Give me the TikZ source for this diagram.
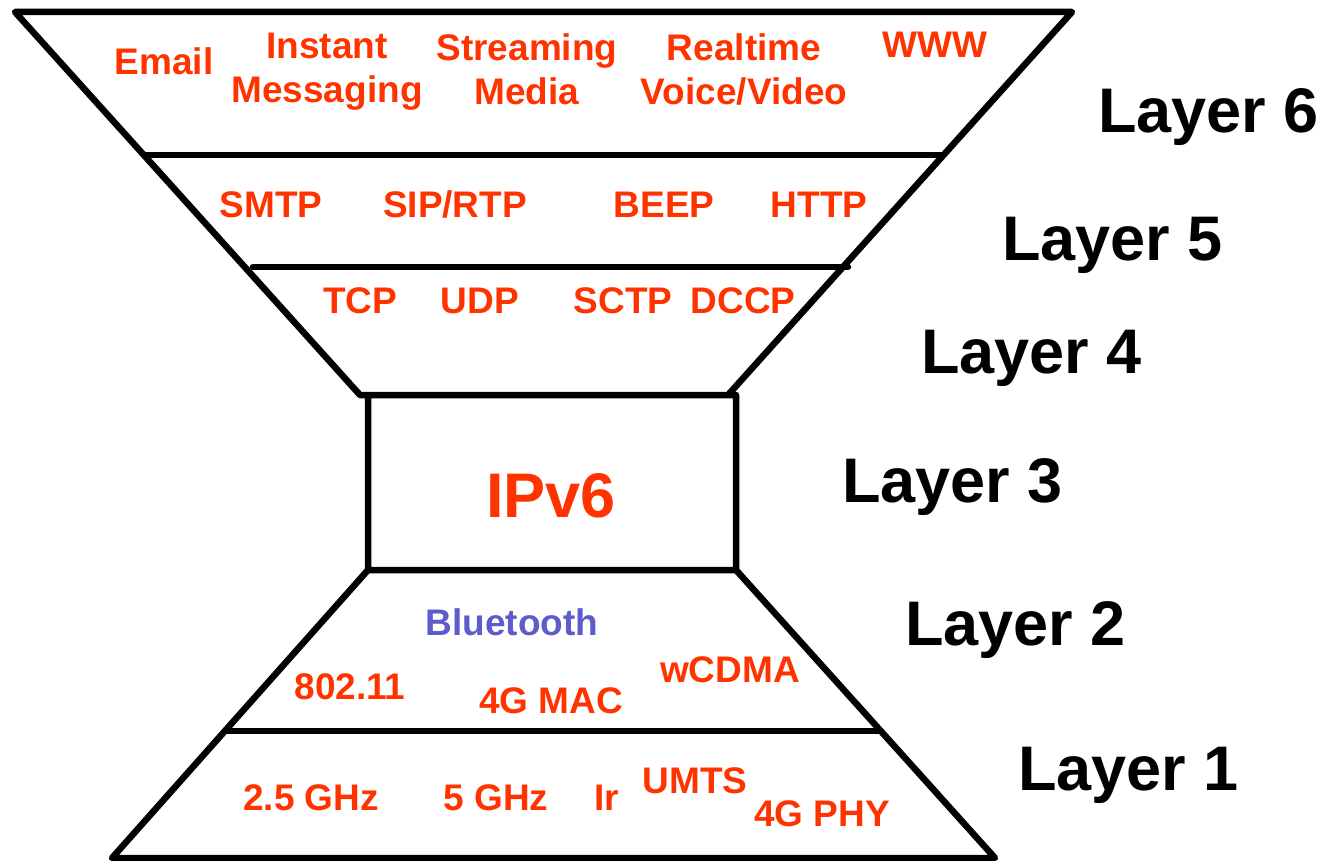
\documentclass[tikz,border=0pt]{standalone}
\usepackage{fontspec}
\setmainfont{Liberation Sans}
\definecolor{lblred}{RGB}{255,51,0}
\definecolor{lblblue}{RGB}{92,92,204}
\begin{document}
\begin{tikzpicture}[x=1pt,y=-1pt,
  outline/.style={line width=6.5pt,line cap=round,line join=round,black},
  proto/.style={font=\fontsize{37}{44}\selectfont\bfseries,text=lblred,inner sep=0pt,anchor=base,align=center},
  proto2/.style={proto,anchor=north},
  layerlbl/.style={font=\fontsize{63}{70}\selectfont\bfseries,text=black,inner sep=0pt,anchor=base west}]
\useasboundingbox (0,0) rectangle (1322,861);
% corners
\coordinate (tl) at (15,12);
\coordinate (tr) at (1072,12);
\coordinate (fl) at (360,395);
\coordinate (fr) at (728,395);
\coordinate (rtl) at (368,395);
\coordinate (rtr) at (736,395);
\coordinate (rbl) at (368,570);
\coordinate (rbr) at (736,570);
\coordinate (bl) at (112,858);
\coordinate (br) at (995,858);
\coordinate (a1) at (145,155);
\coordinate (a2) at (942,155);
\coordinate (b1) at (253,267);
\coordinate (b2) at (848,267);
\coordinate (c1) at (225,731);
\coordinate (c2) at (880,731);
% outlines
\draw[outline] (fr) -- (tr) -- (tl) -- (fl) -- (rtr) -- (rbr) -- (rbl) -- (rtl);
\draw[outline] (rbl) -- (bl) -- (br) -- (rbr);
\draw[outline] (a1) -- (a2);
\draw[outline] (b1) -- (b2);
\draw[outline] (c1) -- (c2);
% layer 6
\node[proto] (email) at (164,75) {Email};
\node[proto2] (im) at (327,33) {Instant\\Messaging};
\node[proto2] (sm) at (527,33) {Streaming\\Media};
\node[proto2] (rv) at (744,33) {Realtime\\Voice/Video};
\node[proto] (www) at (935,58) {WWW};
% layer 5
\node[proto] (smtp) at (271,218) {SMTP};
\node[proto] (sip) at (455,218) {SIP/RTP};
\node[proto] (beep) at (664,218) {BEEP};
\node[proto] (http) at (819,218) {HTTP};
% layer 4
\node[proto] (tcp) at (360,313) {TCP};
\node[proto] (udp) at (480,313) {UDP};
\node[proto] (sctp) at (623,313) {SCTP};
\node[proto] (dccp) at (743,313) {DCCP};
% layer 3
\node[proto,font=\fontsize{63}{70}\selectfont\bfseries] (ipv6) at (551,517) {IPv6};
% layer 2
\node[proto,text=lblblue] (bt) at (512,635) {Bluetooth};
\node[proto] (wifi) at (350,699) {802.11};
\node[proto] (mac) at (551,713) {4G MAC};
\node[proto] (wcdma) at (730,682) {wCDMA};
% layer 1
\node[proto] (g25) at (311,810) {2.5 GHz};
\node[proto] (g5) at (496,810) {5 GHz};
\node[proto] (ir) at (607,810) {Ir};
\node[proto] (umts) at (695,793) {UMTS};
\node[proto] (phy) at (822,826) {4G PHY};
% layer labels
\node[layerlbl] (L6) at (1098,133) {Layer 6};
\node[layerlbl] (L5) at (1002,260) {Layer 5};
\node[layerlbl] (L4) at (921,373) {Layer 4};
\node[layerlbl] (L3) at (842,502) {Layer 3};
\node[layerlbl] (L2) at (905,645) {Layer 2};
\node[layerlbl] (L1) at (1018,790) {Layer 1};
\end{tikzpicture}
\end{document}
